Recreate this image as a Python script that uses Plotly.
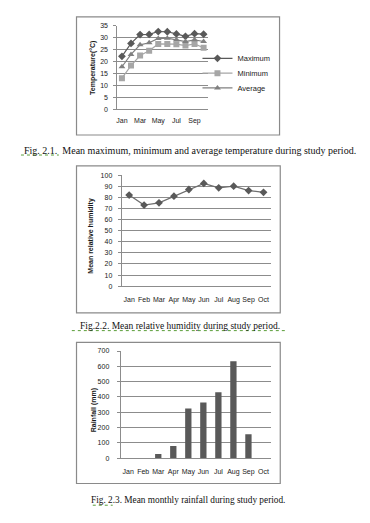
import plotly.graph_objects as go

# The page body has an 8px default margin, so the figure is sized to fit
# the 370x523 window and reference pixel positions are offset by 8px.
OFF = 8
W, H = 370 - OFF, 523 - OFF

months = ["Jan", "Feb", "Mar", "Apr", "May", "Jun", "Jul", "Aug", "Sep", "Oct"]
temp_ticks = ["Jan", "Mar", "May", "Jul", "Sep"]

temp_max = [22.2, 27.6, 31.3, 31.4, 32.6, 32.5, 31.6, 30.6, 31.7, 31.5]
temp_min = [13.0, 18.3, 22.5, 24.5, 27.4, 27.4, 27.3, 26.7, 27.4, 25.8]
temp_avg = [17.8, 23.0, 27.0, 27.9, 29.7, 29.8, 29.1, 28.4, 29.1, 28.4]

humidity = [82, 73, 75, 81, 87, 92.5, 88.5, 90, 86, 84.5]

rainfall = [0, 0, 27, 80, 325, 363, 430, 634, 157, 0]

captions = [
    "Fig. 2.1.  Mean maximum, minimum and average temperature during study period.",
    "Fig.2.2. Mean relative humidity during study period.",
    "Fig. 2.3. Mean monthly rainfall during study period.",
]


def fx(px):
    return (px - OFF) / W


def fy(py):
    return 1 - (py - OFF) / H


GRID = "#8c8c8c"
TICKFONT = dict(family="Liberation Sans", size=7, color="#1a1a1a")

fig = go.Figure()

# ---- Chart 1: temperature lines
fig.add_trace(go.Scatter(x=months, y=temp_max, name="Maximum", mode="lines+markers",
                         line=dict(color="#595959", width=1.2),
                         marker=dict(symbol="diamond", size=6, color="#595959"),
                         xaxis="x", yaxis="y", legend="legend"))
fig.add_trace(go.Scatter(x=months, y=temp_min, name="Minimum", mode="lines+markers",
                         line=dict(color="#a6a6a6", width=1.2),
                         marker=dict(symbol="square", size=6, color="#a6a6a6"),
                         xaxis="x", yaxis="y", legend="legend2"))
fig.add_trace(go.Scatter(x=months, y=temp_avg, name="Average", mode="lines+markers",
                         line=dict(color="#808080", width=1.2),
                         marker=dict(symbol="triangle-up", size=6, color="#808080"),
                         xaxis="x", yaxis="y", legend="legend3"))

# ---- Chart 2: humidity
fig.add_trace(go.Scatter(x=months, y=humidity, name="Humidity", mode="lines+markers",
                         line=dict(color="#6e6e6e", width=1.2),
                         marker=dict(symbol="diamond", size=6, color="#595959"),
                         xaxis="x2", yaxis="y2", showlegend=False))

# ---- Chart 3: rainfall
fig.add_trace(go.Bar(x=months, y=rainfall, name="Rainfall",
                     marker=dict(color="#595959", line=dict(width=0)),
                     xaxis="x3", yaxis="y3", showlegend=False))


def xaxis_cfg(domain, tickvals=None, standoff=6):
    cfg = dict(domain=domain, type="category", showgrid=False, zeroline=False,
               showline=True, linecolor=GRID, linewidth=1, ticks="",
               tickfont=TICKFONT, ticklabelstandoff=standoff, fixedrange=True,
               range=[-0.5, 9.5])
    if tickvals is not None:
        cfg["tickvals"] = tickvals
        cfg["ticktext"] = tickvals
    return cfg


def yaxis_cfg(domain, anchor, rng, dtick, standoff=4):
    return dict(domain=domain, anchor=anchor, range=rng, dtick=dtick,
                showgrid=True, gridcolor=GRID, gridwidth=1, zeroline=False,
                showline=True, linecolor=GRID, linewidth=1,
                ticks="outside", ticklen=3, tickcolor=GRID,
                tickfont=TICKFONT, ticklabelstandoff=standoff, fixedrange=True)


def legend_cfg(py):
    return dict(x=fx(197), y=fy(py), xanchor="left", yanchor="middle",
                bgcolor="rgba(0,0,0,0)", borderwidth=0,
                font=dict(family="Liberation Sans", size=7.5, color="#1a1a1a"),
                itemwidth=30)


fig.update_layout(
    width=W, height=H,
    margin=dict(l=0, r=0, t=0, b=0),
    paper_bgcolor="white", plot_bgcolor="white",
    font=dict(family="Liberation Sans", size=7, color="#1a1a1a"),
    bargap=0.58,
    showlegend=True,
    legend=legend_cfg(55),
    legend2=legend_cfg(70),
    legend3=legend_cfg(85),
    xaxis=xaxis_cfg([fx(116.7), fx(207.7)], tickvals=temp_ticks, standoff=4),
    yaxis=yaxis_cfg([fy(106.5), fy(22)], "x", [0, 35], 5),
    xaxis2=dict(xaxis_cfg([fx(121), fx(270.7)], standoff=6), anchor="y2"),
    yaxis2=yaxis_cfg([fy(286), fy(173.3)], "x2", [0, 100], 10),
    xaxis3=dict(xaxis_cfg([fx(120), fx(270.7)], standoff=6), anchor="y3"),
    yaxis3=yaxis_cfg([fy(460.3), fy(351.7)], "x3", [0, 700], 100, standoff=6),
)
fig.layout.xaxis["anchor"] = "y"

# chart frames
for (x0, y0, x1, y1) in [(75.7, 13, 279.3, 132.7), (75.7, 164, 280, 313), (75.7, 343, 280, 486)]:
    fig.add_shape(type="rect", xref="paper", yref="paper",
                  x0=fx(x0), x1=fx(x1), y0=fy(y1), y1=fy(y0),
                  line=dict(color="#8a8a8a", width=1.2), fillcolor="rgba(0,0,0,0)", layer="below")

# y-axis titles
ytitles = [("Temperature(°C)", 92, 65), ("Mean relative humidity", 90, 235), ("Rainfall (mm)", 93, 412)]
for text, px, py in ytitles:
    fig.add_annotation(text="<b>" + text + "</b>", xref="paper", yref="paper",
                       x=fx(px), y=fy(py), textangle=-90, showarrow=False,
                       font=dict(family="Liberation Sans", size=7, color="#1a1a1a"),
                       xanchor="center", yanchor="middle")

# captions
cap_pos = [(189, 148, 10), (179, 326, 9.5), (187, 503, 9.3)]
for text, (px, py, fs) in zip(captions, cap_pos):
    fig.add_annotation(text=text, xref="paper", yref="paper", x=fx(px), y=fy(py),
                       showarrow=False, xanchor="center", yanchor="middle",
                       font=dict(family="Liberation Serif", size=fs, color="#111111"))

# spell-check style dotted underlines
for (x0, x1, py) in [(20, 58, 153), (71, 287, 331), (92, 112, 508)]:
    fig.add_shape(type="line", xref="paper", yref="paper", x0=fx(x0), x1=fx(x1),
                  y0=fy(py), y1=fy(py), line=dict(color="#5a9e3a", width=1, dash="dot"))

fig.write_html("out.html")
